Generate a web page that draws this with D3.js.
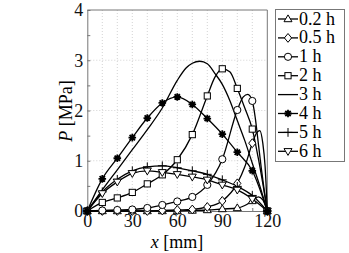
<!DOCTYPE html>
<html><head><meta charset="utf-8">
<script src="https://cdn.jsdelivr.net/npm/d3@7"></script>
<style>
body{margin:0;background:#fff;}
</style></head>
<body><svg id="c" width="349" height="253"></svg>
<script>
const seriesNames = ["0.2 h","0.5 h","1 h","2 h","3 h","4 h","5 h","6 h"];
const markerTypes = ["triUp","diamond","circle","square","none","star","plus","triDown"];
// x positions (mm) and pressure values (MPa) for each series
const x02 = [0,10,20,30,40,50,60,70,80,90,100,105,110,114,117,120];
const p02 = [0,0,0,0,0,0,0,0.01,0.02,0.04,0.06,0.11,0.2,0.28,0.22,0];
const x05 = [0,10,20,30,40,50,60,70,80,90,100,105,110,113,115,117,118.5,120];
const p05 = [0,0,0,0,0,0.01,0.02,0.03,0.08,0.2,0.55,0.88,1.35,1.56,1.6,1.35,0.9,0];
const x1 = [0,10,20,30,40,50,60,70,80,90,100,104,107,110,112,114,116,118,120];
const p1 = [0,0.01,0.02,0.03,0.06,0.12,0.19,0.28,0.52,1.03,2.01,2.27,2.32,2.19,1.85,1.35,0.85,0.4,0];
const x2 = [0,10,20,30,40,50,60,70,80,85,90,95,100,105,110,114,117,120];
const p2 = [0,0.17,0.26,0.37,0.54,0.72,1.02,1.52,2.29,2.66,2.83,2.77,2.44,2.05,1.63,1.05,0.55,0];
const x3 = [0,10,20,30,40,50,60,66,70,75,80,85,90,95,100,105,110,115,120];
const p3 = [0,0.42,0.82,1.22,1.62,2.05,2.6,2.85,2.94,2.98,2.93,2.74,2.52,2.2,1.8,1.4,0.95,0.5,0];
const x4 = [0,10,20,30,40,50,60,70,80,90,100,110,120];
const p4 = [0,0.64,1.05,1.46,1.85,2.15,2.27,2.12,1.84,1.53,1.17,0.8,0];
const x5 = [0,10,20,30,40,50,60,70,80,90,100,110,120];
const p5 = [0,0.38,0.63,0.8,0.88,0.9,0.86,0.8,0.73,0.62,0.49,0.31,0];
const x6 = [0,10,20,30,40,50,60,70,80,90,100,110,120];
const p6 = [0,0.35,0.58,0.75,0.8,0.77,0.73,0.68,0.62,0.52,0.42,0.24,0];
const seriesX = [x02,x05,x1,x2,x3,x4,x5,x6];
const seriesP = [p02,p05,p1,p2,p3,p4,p5,p6];
const xTickLabels = [0,30,60,90,120];
const yTickLabels = [0,1,2,3,4];

const FONT = "'Liberation Serif'";
const svg = d3.select("#c");
const L=87.3, R=267.3, T=10, B=211;
const x = d3.scaleLinear().domain([0,120]).range([L,R]);
const y = d3.scaleLinear().domain([0,4]).range([B,T]);

// grid
const g = svg.append("g");
g.selectAll("line.vg").data(d3.range(10,120,10)).enter().append("line")
  .attr("x1",d=>x(d)).attr("x2",d=>x(d)).attr("y1",T).attr("y2",B)
  .attr("stroke","#c8c8c8").attr("stroke-width",0.8).attr("stroke-dasharray","1,2");
g.selectAll("line.hg").data([1,2,3]).enter().append("line")
  .attr("x1",L).attr("x2",R).attr("y1",d=>y(d)).attr("y2",d=>y(d))
  .attr("stroke","#c8c8c8").attr("stroke-width",0.8).attr("stroke-dasharray","1,2");

// axes
const xAxis = d3.axisBottom(x).tickValues(d3.range(0,121,10)).tickSize(-3)
  .tickFormat(d=>xTickLabels.includes(d)?d:"");
const yAxis = d3.axisLeft(y).tickValues(d3.range(0,4.01,0.5)).tickSize(-3)
  .tickFormat(d=>yTickLabels.includes(d)?d:"");
const ax = svg.append("g").attr("transform",`translate(0,${B})`).call(xAxis);
const ay = svg.append("g").attr("transform",`translate(${L},0)`).call(yAxis);
[ax,ay].forEach(a=>{
  a.attr("font-family",null).attr("font-size",null);
  a.select(".domain").attr("stroke","#777");
  a.selectAll(".tick line").attr("stroke","#777");
  a.selectAll("text").attr("fill","#111").style("font-family",FONT).style("font-size","18px");
});
ax.selectAll("text").attr("dy","0.75em").attr("y",2);
ay.selectAll("text").attr("x",-4).attr("dy","0.33em");
// top & right border
svg.append("line").attr("x1",L).attr("x2",R).attr("y1",T).attr("y2",T).attr("stroke","#777");
svg.append("line").attr("x1",R).attr("x2",R).attr("y1",T).attr("y2",B).attr("stroke","#777");

// markers
function drawMarker(sel, type, cx, cy){
  const s=3.6;
  if(type==="triUp") sel.append("path").attr("d",`M${cx},${cy-s-0.5}L${cx+s+0.4},${cy+s*0.75}L${cx-s-0.4},${cy+s*0.75}Z`).attr("fill","#fff").attr("stroke","#000").attr("stroke-width",1);
  else if(type==="triDown") sel.append("path").attr("d",`M${cx},${cy+s+0.5}L${cx+s+0.4},${cy-s*0.75}L${cx-s-0.4},${cy-s*0.75}Z`).attr("fill","#fff").attr("stroke","#000").attr("stroke-width",1);
  else if(type==="diamond") sel.append("path").attr("d",`M${cx},${cy-s-0.8}L${cx+s},${cy}L${cx},${cy+s+0.8}L${cx-s},${cy}Z`).attr("fill","#fff").attr("stroke","#000").attr("stroke-width",1);
  else if(type==="circle") sel.append("circle").attr("cx",cx).attr("cy",cy).attr("r",s).attr("fill","#fff").attr("stroke","#000").attr("stroke-width",1);
  else if(type==="square") sel.append("rect").attr("x",cx-s+0.5).attr("y",cy-s+0.5).attr("width",2*s-1).attr("height",2*s-1).attr("fill","#fff").attr("stroke","#000").attr("stroke-width",1);
  else if(type==="star"){
    const r=3.8; let d="";
    for(let a=0;a<4;a++){const t=a*Math.PI/4; d+=`M${cx-r*Math.cos(t)},${cy-r*Math.sin(t)}L${cx+r*Math.cos(t)},${cy+r*Math.sin(t)}`;}
    sel.append("path").attr("d",d).attr("stroke","#000").attr("stroke-width",1.8);
    sel.append("circle").attr("cx",cx).attr("cy",cy).attr("r",2.2).attr("fill","#000");
  }
  else if(type==="plus"){
    const r=4.4;
    sel.append("path").attr("d",`M${cx-r},${cy}L${cx+r},${cy}M${cx},${cy-r}L${cx},${cy+r}`).attr("stroke","#000").attr("stroke-width",1);
  }
}

const line = d3.line().x(d=>x(d[0])).y(d=>y(d[1])).curve(d3.curveMonotoneX);
const plot = svg.append("g");
seriesNames.forEach((name,i)=>{
  const pts = seriesX[i].map((xv,j)=>[xv,seriesP[i][j]]);
  plot.append("path").datum(pts).attr("d",line).attr("fill","none").attr("stroke","#000").attr("stroke-width",1.3);
});
// draw markers; asterisks last so they sit on top
const order = [0,1,2,3,6,7,5];
order.forEach(i=>{
  if(markerTypes[i]==="none") return;
  const mg = plot.append("g");
  seriesX[i].forEach((xv,j)=>{
    if(xv%10===0) drawMarker(mg, markerTypes[i], x(xv), y(seriesP[i][j]));
  });
});

// axis labels
const xl = svg.append("text").attr("x",177).attr("y",248).attr("text-anchor","middle").style("font-family",FONT).style("font-size","18px");
xl.append("tspan").style("font-style","italic").text("x");
xl.append("tspan").text(" [mm]");
const yl = svg.append("text").attr("transform","translate(72,111) rotate(-90)").attr("text-anchor","middle").style("font-family",FONT).style("font-size","18px");
yl.append("tspan").style("font-style","italic").text("P");
yl.append("tspan").text(" [MPa]");

// legend
const lg = svg.append("g");
lg.append("rect").attr("x",275.5).attr("y",9.5).attr("width",69).attr("height",152).attr("fill","#fff").attr("stroke","#777");
seriesNames.forEach((name,i)=>{
  const cy = 19 + i*18.9;
  lg.append("line").attr("x1",278).attr("x2",298).attr("y1",cy).attr("y2",cy).attr("stroke","#000").attr("stroke-width",1.3);
  if(markerTypes[i]!=="none") drawMarker(lg, markerTypes[i], 288, cy);
  lg.append("text").attr("x",299).attr("y",cy+5.5).style("font-family",FONT).style("font-size","18px").text(name);
});
</script></body></html>
